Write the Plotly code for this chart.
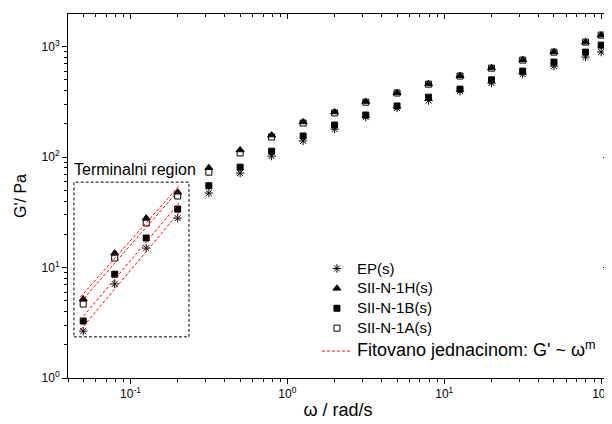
import numpy as np
import plotly.graph_objects as go

omega = [0.05, 0.0794, 0.126, 0.2, 0.316, 0.5, 0.794, 1.26, 2.0, 3.16, 5.0, 7.94,
         12.6, 20.0, 31.6, 50.0, 79.4, 100.0]
g_ep = [2.66, 7.1, 15.0, 28.0, 47.2, 71.6, 102, 140, 179, 230, 278, 325, 395, 468, 563, 665, 804, 893]
g_1h = [5.19, 13.5, 28.0, 48.0, 80, 116, 158, 208, 256, 318, 383, 460, 545, 642, 760, 895, 1100, 1270]
g_1b = [3.28, 8.7, 18.5, 33.8, 55, 81, 113, 155, 195, 240, 290, 348, 412, 500, 600, 724, 891, 1030]
g_1a = [4.67, 12.2, 25.3, 44.4, 73, 109, 152, 203, 251, 314, 380, 457, 541, 638, 755, 891, 1098, 1270]
names = ["EP(s)", "SII-N-1H(s)", "SII-N-1B(s)", "SII-N-1A(s)"]
symbols = ["asterisk-open", "triangle-up", "square", "square-open"]
n_terminal = 4
fit_range = [0.048, 0.205]
fit_name = "Fitovano jednacinom: G' ~ ω<sup>m</sup>"

x_major = [0.1, 1, 10, 100]
x_major_text = ["10<sup>-1</sup>", "10<sup>0</sup>", "10<sup>1</sup>", "10<sup>2</sup>"]
y_major = [1, 10, 100, 1000]
y_major_text = ["10<sup>0</sup>", "10<sup>1</sup>", "10<sup>2</sup>", "10<sup>3</sup>"]

x_minor = [m * 10.0 ** e for e in range(-2, 3) for m in range(2, 10)]
y_minor = [m * 10.0 ** e for e in range(0, 4) for m in range(2, 10)]

FONT = "Liberation Sans, Arial, sans-serif"
fig = go.Figure()

series = [g_ep, g_1h, g_1b, g_1a]
for name, sym, ys in zip(names, symbols, series):
    fig.add_trace(go.Scatter(
        x=omega, y=ys, mode="markers",
        name="<span style='font-size:15px'>" + name + "</span>",
        legendgroup="data",
        marker=dict(symbol=sym, size=7 if "triangle" in sym or "asterisk" in sym else 6,
                    color="black", line=dict(color="black", width=1)),
    ))

for i, ys in enumerate(series):
    lx = np.log10(omega[:n_terminal])
    ly = np.log10(ys[:n_terminal])
    m, b = np.polyfit(lx, ly, 1)
    xf = np.array(fit_range)
    yf = 10 ** (m * np.log10(xf) + b)
    fig.add_trace(go.Scatter(
        x=xf, y=yf, mode="lines",
        name="<span style='font-size:18px'>" + fit_name + "</span>",
        legendgroup="fit", showlegend=(i == 0),
        line=dict(color="red", width=1, dash="3px,2px"),
    ))

# invisible trace for mirrored axes
fig.add_trace(go.Scatter(x=[1], y=[10], xaxis="x2", yaxis="y2", mode="markers",
                         marker=dict(opacity=0), showlegend=False, hoverinfo="skip"))

xr = [np.log10(0.04), np.log10(110.5)]
yr = [0, 3.295]

# page body has an 8px default margin: figure is 8px smaller, margins shifted
fig.update_layout(
    width=604, height=416,
    margin=dict(l=60, r=4, t=6, b=46),
    paper_bgcolor="white", plot_bgcolor="white",
    font=dict(family=FONT, color="black", size=12),
    showlegend=True,
    legend=dict(x=0.461, y=0.342, xanchor="left", yanchor="top",
                bgcolor="rgba(0,0,0,0)", font=dict(size=13, family=FONT),
                traceorder="grouped", tracegroupgap=3, itemsizing="trace"),
    xaxis=dict(type="log", range=xr, showgrid=False, zeroline=False, automargin=False,
               showline=True, linecolor="black", linewidth=1,
               ticks="outside", ticklen=5, tickcolor="black",
               tickmode="array", tickvals=x_major, ticktext=x_major_text,
               tickfont=dict(size=12),
               minor=dict(tickmode="array", tickvals=x_minor, ticks="outside",
                          ticklen=3, tickcolor="black", showgrid=False),
               title=dict(text="ω / rad/s", font=dict(size=18), standoff=2)),
    yaxis=dict(type="log", range=yr, showgrid=False, zeroline=False, automargin=False,
               showline=True, linecolor="black", linewidth=1,
               ticks="outside", ticklen=5, tickcolor="black",
               tickmode="array", tickvals=y_major, ticktext=y_major_text,
               tickfont=dict(size=12),
               minor=dict(tickmode="array", tickvals=y_minor, ticks="outside",
                          ticklen=3, tickcolor="black", showgrid=False),
               title=dict(text="G'/ Pa", font=dict(size=16), standoff=10)),
    xaxis2=dict(type="log", range=xr, overlaying="x", side="top", anchor="y2", automargin=False,
                showgrid=False, zeroline=False, showline=True, linecolor="black",
                ticks="inside", ticklen=5, tickcolor="black", showticklabels=False,
                tickmode="array", tickvals=x_major,
                minor=dict(tickmode="array", tickvals=x_minor, ticks="inside",
                           ticklen=3, tickcolor="black", showgrid=False)),
    yaxis2=dict(type="log", range=yr, overlaying="y", side="right", anchor="x2", automargin=False,
                showgrid=False, zeroline=False, showline=True, linecolor="black",
                ticks="inside", ticklen=5, tickcolor="black", showticklabels=False,
                tickmode="array", tickvals=y_major,
                minor=dict(tickmode="array", tickvals=y_minor, ticks="inside",
                           ticklen=3, tickcolor="black", showgrid=False)),
)

fig.add_shape(type="rect", xref="paper", yref="paper",
              x0=0.011, x1=0.224, y0=0.113, y1=0.538,
              line=dict(color="black", width=1, dash="3px,2px"))
fig.add_annotation(xref="paper", yref="paper", x=0.007, y=0.545,
                   xanchor="left", yanchor="bottom", showarrow=False,
                   text="Terminalni region", font=dict(size=16, family=FONT))

fig.write_html("out.html")
